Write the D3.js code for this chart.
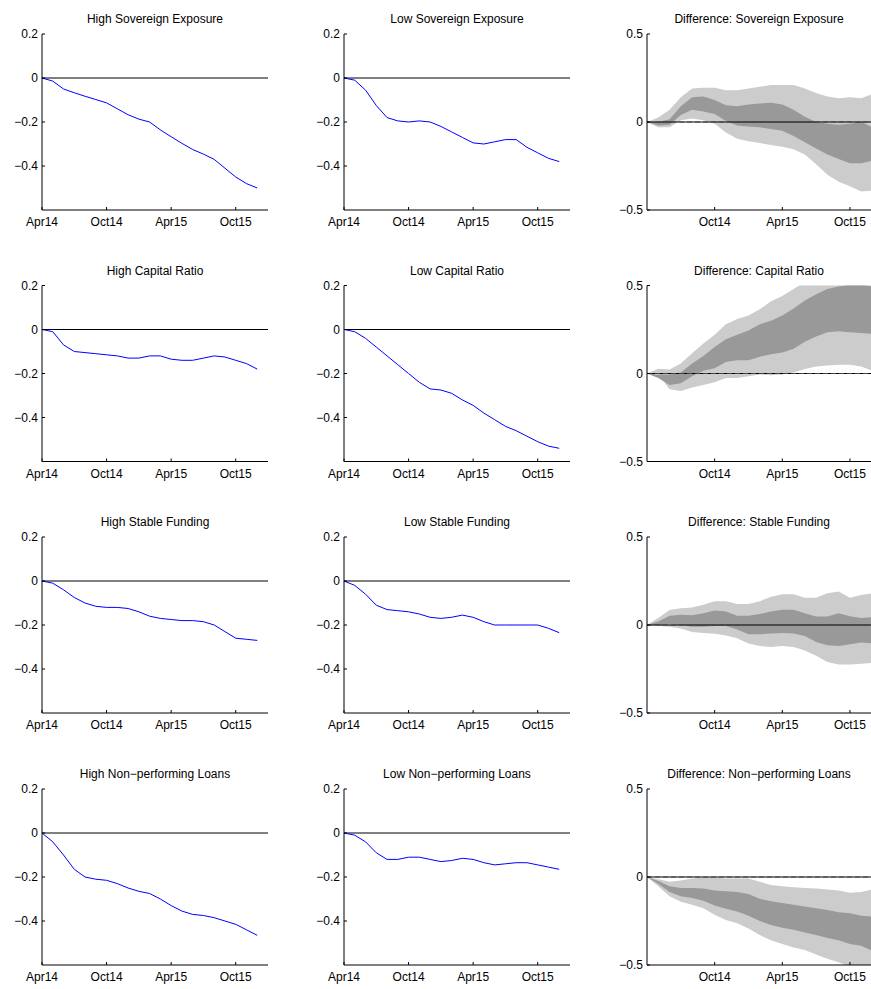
<!DOCTYPE html>
<html>
<head>
<meta charset="utf-8">
<script src="https://d3js.org/d3.v7.min.js"></script>
<style>
  body { margin: 0; background: #fff; }
  text { font-family: "Liberation Sans", Arial, sans-serif; font-size: 12px; }
</style>
</head>
<body>
<svg id="chart" width="871" height="989"></svg>
<script>
// months since Apr14 (0..20)
var months = d3.range(21);
var xTickMonths = [0, 6, 12, 18];
var xTickLabels = ["Apr14", "Oct14", "Apr15", "Oct15"];

var groupNames = ["Sovereign Exposure", "Capital Ratio", "Stable Funding", "Non\u2212performing Loans"];

var highSov = [0, -0.014, -0.05, -0.067, -0.083, -0.098, -0.113, -0.14, -0.167, -0.187, -0.2, -0.236, -0.267, -0.297, -0.325, -0.346, -0.37, -0.41, -0.45, -0.48, -0.5];
var lowSov = [0, -0.01, -0.055, -0.125, -0.18, -0.195, -0.2, -0.195, -0.2, -0.22, -0.245, -0.27, -0.295, -0.3, -0.29, -0.28, -0.28, -0.315, -0.34, -0.365, -0.38];
var highCap = [0, -0.01, -0.07, -0.1, -0.105, -0.11, -0.115, -0.12, -0.13, -0.13, -0.12, -0.12, -0.135, -0.14, -0.14, -0.13, -0.12, -0.125, -0.14, -0.155, -0.18];
var lowCap = [0, -0.01, -0.04, -0.08, -0.12, -0.16, -0.2, -0.24, -0.27, -0.275, -0.29, -0.32, -0.345, -0.38, -0.41, -0.44, -0.46, -0.485, -0.51, -0.53, -0.54];
var highFund = [0, -0.01, -0.04, -0.075, -0.1, -0.115, -0.12, -0.12, -0.125, -0.14, -0.16, -0.17, -0.175, -0.18, -0.18, -0.185, -0.2, -0.23, -0.26, -0.265, -0.27];
var lowFund = [0, -0.02, -0.06, -0.11, -0.13, -0.135, -0.14, -0.15, -0.165, -0.17, -0.165, -0.155, -0.165, -0.185, -0.2, -0.2, -0.2, -0.2, -0.2, -0.215, -0.235];
var highNpl = [0, -0.04, -0.1, -0.165, -0.2, -0.21, -0.215, -0.23, -0.25, -0.265, -0.275, -0.3, -0.33, -0.355, -0.37, -0.375, -0.385, -0.4, -0.415, -0.44, -0.465];
var lowNpl = [0, -0.01, -0.04, -0.09, -0.12, -0.12, -0.11, -0.11, -0.12, -0.13, -0.125, -0.115, -0.12, -0.135, -0.145, -0.14, -0.135, -0.135, -0.145, -0.155, -0.165];

// difference bands: outer (light) and inner (dark) upper/lower bounds
var sovOutUp = [0, 0.025, 0.07, 0.14, 0.19, 0.195, 0.195, 0.18, 0.18, 0.19, 0.2, 0.21, 0.21, 0.21, 0.19, 0.165, 0.145, 0.135, 0.14, 0.135, 0.16];
var sovOutLo = [0, -0.03, -0.03, 0.01, 0.02, 0.01, -0.01, -0.06, -0.095, -0.11, -0.12, -0.13, -0.14, -0.155, -0.185, -0.24, -0.3, -0.34, -0.365, -0.395, -0.39];
var sovInUp = [0, 0, 0.015, 0.09, 0.14, 0.145, 0.125, 0.095, 0.09, 0.1, 0.105, 0.11, 0.1, 0.07, 0.03, 0, -0.01, -0.015, -0.01, 0, -0.03];
var sovInLo = [0, -0.02, -0.015, 0.04, 0.07, 0.06, 0.045, 0.005, -0.02, -0.025, -0.03, -0.04, -0.05, -0.08, -0.115, -0.15, -0.185, -0.21, -0.235, -0.235, -0.22];

var capOutUp = [0, 0.027, 0.023, 0.057, 0.115, 0.17, 0.22, 0.28, 0.31, 0.33, 0.365, 0.41, 0.44, 0.48, 0.52, 0.56, 0.6, 0.62, 0.64, 0.65, 0.65];
var capOutLo = [0, -0.005, -0.09, -0.1, -0.08, -0.065, -0.05, -0.025, -0.025, -0.015, -0.005, -0.01, -0.005, 0.005, 0.025, 0.04, 0.045, 0.05, 0.05, 0.04, 0.015];
var capInUp = [0, -0.005, -0.005, 0.005, 0.057, 0.1, 0.15, 0.195, 0.22, 0.245, 0.28, 0.3, 0.33, 0.37, 0.415, 0.45, 0.48, 0.495, 0.505, 0.505, 0.495];
var capInLo = [0, -0.025, -0.065, -0.055, -0.015, 0.015, 0.03, 0.065, 0.075, 0.075, 0.095, 0.11, 0.12, 0.14, 0.18, 0.21, 0.235, 0.24, 0.235, 0.23, 0.225];

var fundOutUp = [0, 0.04, 0.085, 0.095, 0.1, 0.115, 0.135, 0.135, 0.12, 0.12, 0.135, 0.16, 0.175, 0.175, 0.155, 0.155, 0.18, 0.19, 0.155, 0.17, 0.18];
var fundOutLo = [0, -0.005, -0.01, -0.02, -0.04, -0.045, -0.05, -0.06, -0.075, -0.105, -0.12, -0.125, -0.12, -0.125, -0.145, -0.175, -0.21, -0.225, -0.225, -0.22, -0.215];
var fundInUp = [0, 0.02, 0.052, 0.058, 0.056, 0.067, 0.083, 0.077, 0.052, 0.052, 0.063, 0.077, 0.087, 0.087, 0.067, 0.048, 0.048, 0.067, 0.05, 0.04, 0.045];
var fundInLo = [0, 0, 0.005, 0, -0.01, -0.01, -0.005, -0.005, -0.025, -0.052, -0.052, -0.048, -0.045, -0.048, -0.063, -0.096, -0.115, -0.12, -0.11, -0.1, -0.105];

var nplOutUp = [0, -0.013, -0.027, -0.02, -0.008, -0.004, -0.004, -0.008, -0.008, -0.008, -0.027, -0.046, -0.052, -0.058, -0.062, -0.065, -0.071, -0.077, -0.09, -0.085, -0.07];
var nplOutLo = [0, -0.052, -0.11, -0.14, -0.158, -0.177, -0.215, -0.244, -0.263, -0.292, -0.33, -0.36, -0.38, -0.4, -0.415, -0.44, -0.465, -0.485, -0.51, -0.53, -0.55];
var nplInUp = [0, -0.023, -0.052, -0.062, -0.062, -0.065, -0.077, -0.081, -0.085, -0.096, -0.123, -0.138, -0.148, -0.158, -0.167, -0.177, -0.187, -0.2, -0.206, -0.22, -0.225];
var nplInLo = [0, -0.038, -0.085, -0.11, -0.12, -0.135, -0.162, -0.18, -0.196, -0.22, -0.25, -0.273, -0.288, -0.3, -0.315, -0.33, -0.346, -0.36, -0.38, -0.39, -0.42];

var highSeries = [highSov, highCap, highFund, highNpl];
var lowSeries = [lowSov, lowCap, lowFund, lowNpl];
var bands = [
  [sovOutUp, sovOutLo, sovInUp, sovInLo],
  [capOutUp, capOutLo, capInUp, capInLo],
  [fundOutUp, fundOutLo, fundInUp, fundInLo],
  [nplOutUp, nplOutLo, nplInUp, nplInLo]
];

var svg = d3.select("#chart");
var colLeft = [42, 344, 647];
var rowTop = [34, 285.5, 537, 789];
var plotH = 176;

function drawAxes(g, x, y, yTicks, xTicks, xLabels, width) {
  g.append("line").attr("x1", 0).attr("x2", 0).attr("y1", 0).attr("y2", plotH).attr("stroke", "#000");
  g.append("line").attr("x1", 0).attr("x2", width).attr("y1", plotH).attr("y2", plotH).attr("stroke", "#000");
  yTicks.forEach(function (t) {
    g.append("line").attr("x1", 0).attr("x2", 3).attr("y1", y(t)).attr("y2", y(t)).attr("stroke", "#000");
    g.append("text").attr("x", -4).attr("y", y(t)).attr("dy", "0.35em").attr("text-anchor", "end")
      .text(t === 0 ? "0" : d3.format(".1f")(t).replace("-", "\u2212"));
  });
  xTicks.forEach(function (t, i) {
    g.append("line").attr("x1", x(t)).attr("x2", x(t)).attr("y1", plotH).attr("y2", plotH - 3).attr("stroke", "#000");
    g.append("text").attr("x", x(t)).attr("y", plotH + 16).attr("text-anchor", "middle").text(xLabels[i]);
  });
}

function linePanel(left, top, data, title) {
  var g = svg.append("g").attr("transform", "translate(" + left + "," + top + ")");
  var x = d3.scaleLinear().domain([0, 21]).range([0, 226]);
  var y = d3.scaleLinear().domain([-0.6, 0.2]).range([plotH, 0]);
  g.append("line").attr("x1", 0).attr("x2", 226).attr("y1", y(0)).attr("y2", y(0)).attr("stroke", "#000");
  g.append("path").datum(data)
    .attr("d", d3.line().x(function (d, i) { return x(months[i]); }).y(function (d) { return y(d); }))
    .attr("fill", "none").attr("stroke", "#0000ff").attr("stroke-width", 1);
  drawAxes(g, x, y, [0.2, 0, -0.2, -0.4], xTickMonths, xTickLabels, 226);
  g.append("text").attr("x", 113).attr("y", -11).attr("text-anchor", "middle").text(title);
}

function bandPanel(left, top, b, title) {
  var g = svg.append("g").attr("transform", "translate(" + left + "," + top + ")");
  var x = d3.scaleLinear().domain([0, 20]).range([0, 225.5]);
  var y = d3.scaleLinear().domain([-0.5, 0.5]).range([plotH, 0]);
  var clipId = "clip" + Math.round(top);
  g.append("clipPath").attr("id", clipId).append("rect").attr("x", 0).attr("y", 0).attr("width", 240).attr("height", plotH);
  var area = function (up, lo) {
    return d3.area().x(function (d, i) { return x(months[i]); })
      .y0(function (d, i) { return y(lo[i]); }).y1(function (d, i) { return y(up[i]); })(up);
  };
  var pg = g.append("g").attr("clip-path", "url(#" + clipId + ")");
  pg.append("path").attr("d", area(b[0], b[1])).attr("fill", "#cccccc");
  pg.append("path").attr("d", area(b[2], b[3])).attr("fill", "#999999");
  g.append("line").attr("x1", 0).attr("x2", 226).attr("y1", y(0)).attr("y2", y(0)).attr("stroke", "#000");
  g.append("line").attr("x1", 0).attr("x2", 226).attr("y1", y(0)).attr("y2", y(0)).attr("stroke", "#444").attr("stroke-dasharray", "5,3");
  drawAxes(g, x, y, [0.5, 0, -0.5], xTickMonths.slice(1), xTickLabels.slice(1), 226);
  g.append("text").attr("x", 112).attr("y", -11).attr("text-anchor", "middle").text(title);
}

groupNames.forEach(function (name, r) {
  linePanel(colLeft[0], rowTop[r], highSeries[r], "High " + name);
  linePanel(colLeft[1], rowTop[r], lowSeries[r], "Low " + name);
  bandPanel(colLeft[2], rowTop[r], bands[r], "Difference: " + name);
});
</script>
</body>
</html>
